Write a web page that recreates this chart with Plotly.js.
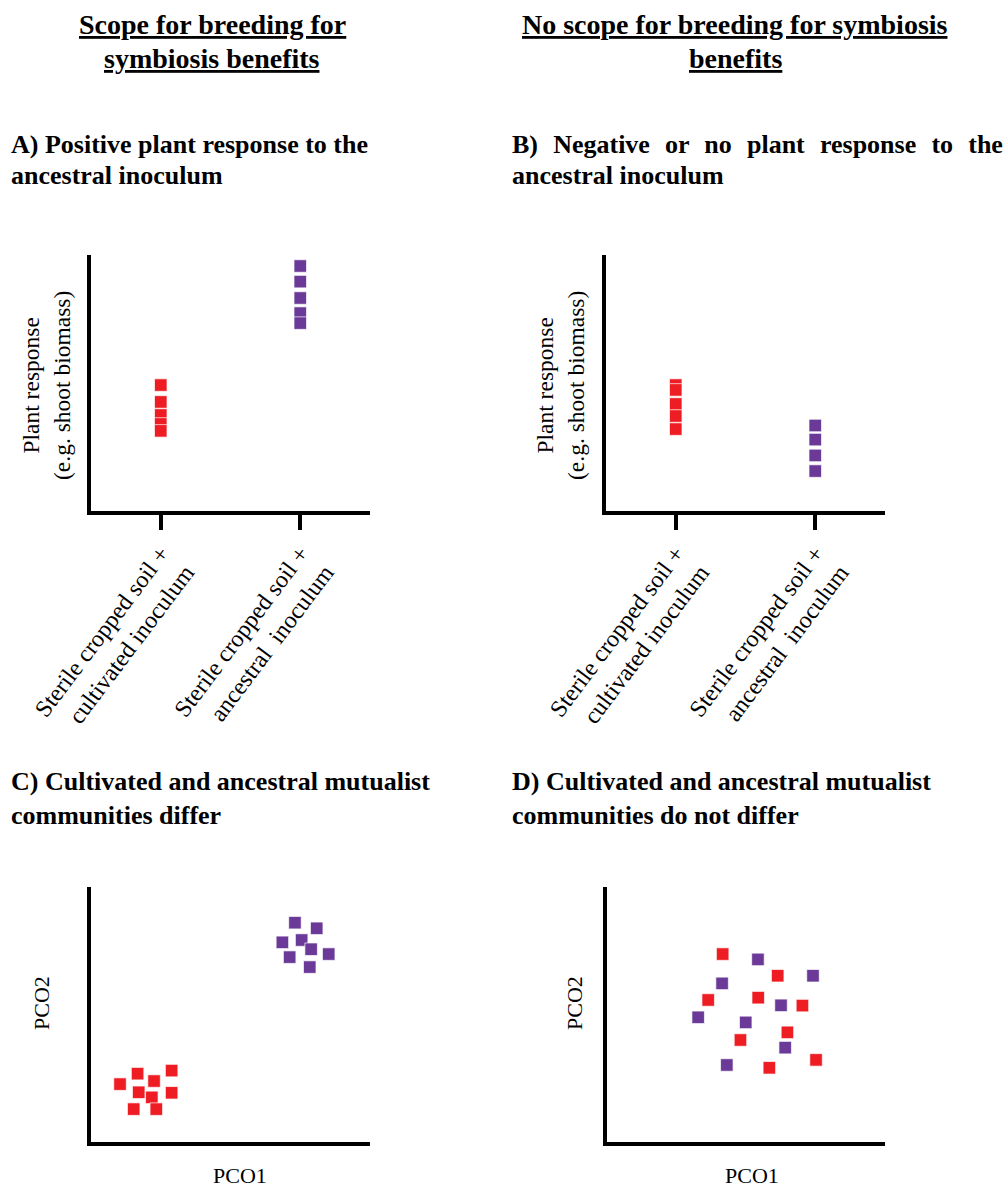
<!DOCTYPE html>
<html>
<head>
<meta charset="utf-8">
<script src="https://cdn.plot.ly/plotly-3.0.1.min.js"></script>
<style>html,body{margin:0;padding:0;background:#fff;}#chart{width:1005px;height:1190px;}</style>
</head>
<body>
<div id="chart"></div>
<script>
// ---------- data ----------
const categories = ['Sterile cropped soil +<br>cultivated inoculum', 'Sterile cropped soil +<br>ancestral\u00A0 inoculum'];

// Panel A: positive plant response to ancestral inoculum
const aCultivated = [4.92, 4.26, 3.75, 3.40, 3.13];
const aAncestral  = [9.57, 8.96, 8.32, 7.73, 7.34];

// Panel B: negative or no plant response
const bCultivated = [4.92, 4.73, 4.18, 3.71, 3.20];
const bAncestral  = [3.34, 2.79, 2.17, 1.56];

// Panel C: communities differ (PCO1, PCO2)
const cCultivatedX = [1.04, 1.67, 2.26, 2.89, 1.71, 2.18, 2.89, 1.53, 2.34];
const cCultivatedY = [2.27, 2.68, 2.39, 2.80, 1.95, 1.75, 1.93, 1.29, 1.29];
const cAncestralX  = [7.31, 8.09, 6.86, 7.55, 7.89, 8.52, 7.12, 7.84];
const cAncestralY  = [8.60, 8.38, 7.83, 7.92, 7.56, 7.37, 7.25, 6.86];

// Panel D: communities do not differ
const dCultivatedX = [4.16, 6.14, 3.64, 5.44, 7.03, 6.49, 4.80, 7.52, 5.84];
const dCultivatedY = [7.37, 6.52, 5.57, 5.66, 5.35, 4.30, 4.00, 3.22, 2.91];
const dAncestralX  = [5.43, 7.41, 4.14, 6.26, 3.28, 4.99, 6.41, 4.31];
const dAncestralY  = [7.16, 6.52, 6.22, 5.36, 4.89, 4.69, 3.70, 3.02];

// ---------- style ----------
const RED = '#EE1D23';
const PURPLE = '#6B3A98';
const W = 1005, H = 1190;
const SERIF = 'Liberation Serif, Times New Roman, serif';

function mk(color) {
  return {symbol: 'square', size: 12.5, color: color, line: {color: 'rgba(255,255,255,0.85)', width: 0.8}};
}
function rep(cat, n) { return Array(n).fill(cat); }

const traces = [
  {type: 'scatter', mode: 'markers', x: rep(categories[0], aCultivated.length), y: aCultivated, xaxis: 'x', yaxis: 'y', marker: mk(RED)},
  {type: 'scatter', mode: 'markers', x: rep(categories[1], aAncestral.length), y: aAncestral, xaxis: 'x', yaxis: 'y', marker: mk(PURPLE)},
  {type: 'scatter', mode: 'markers', x: rep(categories[0], bCultivated.length), y: bCultivated, xaxis: 'x2', yaxis: 'y2', marker: mk(RED)},
  {type: 'scatter', mode: 'markers', x: rep(categories[1], bAncestral.length), y: bAncestral, xaxis: 'x2', yaxis: 'y2', marker: mk(PURPLE)},
  {type: 'scatter', mode: 'markers', x: cCultivatedX, y: cCultivatedY, xaxis: 'x3', yaxis: 'y3', marker: mk(RED)},
  {type: 'scatter', mode: 'markers', x: cAncestralX, y: cAncestralY, xaxis: 'x3', yaxis: 'y3', marker: mk(PURPLE)},
  {type: 'scatter', mode: 'markers', x: dCultivatedX, y: dCultivatedY, xaxis: 'x4', yaxis: 'y4', marker: mk(RED)},
  {type: 'scatter', mode: 'markers', x: dAncestralX, y: dAncestralY, xaxis: 'x4', yaxis: 'y4', marker: mk(PURPLE)}
];

function px(a, b) { return [a / W, b / W]; }
function py(top, bottom) { return [1 - bottom / H, 1 - top / H]; }

const baseLine = {showline: true, linewidth: 4, linecolor: '#000', showgrid: false, zeroline: false, fixedrange: true};
function catAxis(domain, anchor) {
  return Object.assign({}, baseLine, {
    domain: domain, anchor: anchor, type: 'category', categoryorder: 'array', categoryarray: categories,
    range: [-0.5, 1.5], ticks: 'outside', ticklen: 15, tickwidth: 4, tickcolor: '#000',
    tickangle: -53, tickfont: {family: SERIF, size: 24, color: '#000'}, automargin: false
  });
}
function numAxis(domain, anchor) {
  return Object.assign({}, baseLine, {
    domain: domain, anchor: anchor, range: [0, 10], ticks: '', showticklabels: false, automargin: false
  });
}

const layout = {
  width: W, height: H,
  margin: {l: 0, r: 0, t: 0, b: 0},
  paper_bgcolor: '#fff', plot_bgcolor: '#fff',
  showlegend: false,
  font: {family: SERIF, color: '#000'},
  xaxis: catAxis(px(91, 370), 'y'),
  yaxis: numAxis(py(255, 511), 'x'),
  xaxis2: catAxis(px(606, 885), 'y2'),
  yaxis2: numAxis(py(255, 511), 'x2'),
  xaxis3: numAxis(px(91, 370), 'y3'),
  yaxis3: numAxis(py(887, 1142), 'x3'),
  xaxis4: numAxis(px(607, 885), 'y4'),
  yaxis4: numAxis(py(887, 1142), 'x4'),
  annotations: []
};

function ann(text, x, y, opts) {
  return Object.assign({
    text: text, xref: 'paper', yref: 'paper', x: x / W, y: 1 - y / H,
    showarrow: false, xanchor: 'center', yanchor: 'middle', align: 'center',
    font: {family: SERIF, size: 23.5, color: '#000'}
  }, opts || {});
}
const sp = ' \u00A0\u200A';
const head = {family: SERIF, size: 28, color: '#000'};
const bold = {family: SERIF, size: 26, color: '#000'};
const L = {font: bold, xanchor: 'left', align: 'left'};
layout.annotations.push(
  ann('<b><u>Scope for breeding for</u></b>', 212, 24, {font: head}),
  ann('<b><u>symbiosis benefits</u></b>', 212, 58, {font: head}),
  ann('<b><u>No scope for breeding for symbiosis</u></b>', 735, 24, {font: head}),
  ann('<b><u>benefits</u></b>', 735, 58, {font: head}),
  ann('<b>A) Positive plant response to the</b>', 9, 144, L),
  ann('<b>ancestral inoculum</b>', 9, 175, L),
  ann('<b>B)' + sp + 'Negative' + sp + 'or' + sp + 'no' + sp + 'plant' + sp + 'response' + sp + 'to' + sp + 'the</b>', 510, 144, L),
  ann('<b>ancestral inoculum</b>', 510, 175, L),
  ann('<b>C) Cultivated and ancestral mutualist</b>', 9, 781, L),
  ann('<b>communities differ</b>', 9, 815, L),
  ann('<b>D) Cultivated and ancestral mutualist</b>', 510, 781, L),
  ann('<b>communities do not differ</b>', 510, 815, L),
  ann('Plant response<br>(e.g. shoot biomass)', 47, 386, {textangle: -90}),
  ann('Plant response<br>(e.g. shoot biomass)', 561, 386, {textangle: -90}),
  ann('PCO2', 41, 1003, {textangle: -90, font: {family: SERIF, size: 22, color: '#000'}}),
  ann('PCO2', 574, 1003, {textangle: -90, font: {family: SERIF, size: 22, color: '#000'}}),
  ann('PCO1', 240, 1175, {font: {family: SERIF, size: 22, color: '#000'}}),
  ann('PCO1', 752, 1175, {font: {family: SERIF, size: 22, color: '#000'}})
);

Plotly.newPlot('chart', traces, layout, {displayModeBar: false, staticPlot: true});
</script>
</body>
</html>
